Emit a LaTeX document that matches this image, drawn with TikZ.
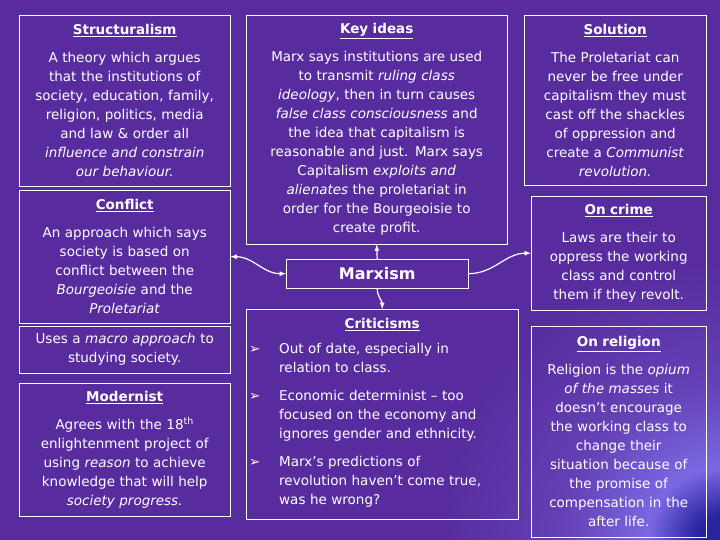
\documentclass[tikz,border=0pt]{standalone}
\usepackage{fontspec}
\setmainfont{DejaVu Sans}
\usepackage{tikz}
\usetikzlibrary{arrows}
\definecolor{bgPurple}{HTML}{582C9E}
\definecolor{glowViolet}{HTML}{7A68E2}
\definecolor{cornerBlue}{HTML}{28249E}
\pgfdeclareradialshading{cornerGlow}{\pgfpoint{0bp}{0bp}}{color(0bp)=(cornerBlue); color(2bp)=(cornerBlue); color(6bp)=(glowViolet); color(13bp)=(bgPurple!65!glowViolet); color(23bp)=(bgPurple); color(50bp)=(bgPurple)}
\newcommand{\boxTitle}[1]{\underline{\textbf{#1}}\\[9pt]}

\begin{document}
\begin{tikzpicture} [
    x=1pt, y=-1pt,
    infoBox/.style={draw=white, thin, text=white, align=center, anchor=north west, inner sep=3pt, font=\fontsize{13.5}{19}\selectfont},
    arrow/.style={line width=1.2pt, -latex, color=white}
]
    \useasboundingbox (0,0) rectangle (720,540);
    % background with the glow in the lower right corner
    \fill[bgPurple] (0,0) rectangle (720,540);
    \shade[shading=cornerGlow] (720,540) circle [radius=300pt];

    % left column
    \node[infoBox, minimum width=211pt, minimum height=171pt, text width=205pt] (structuralism) at (19,15) {\boxTitle{Structuralism}
        A theory which argues\\ that the institutions of\\ society, education, family,\\ religion, politics, media\\ and law \& order all\\ \textit{influence and constrain}\\ \textit{our behaviour.}};
    \node[infoBox, minimum width=211pt, minimum height=133pt, text width=205pt] (conflict) at (19,190) {\boxTitle{Conflict}
        An approach which says\\ society is based on\\ conflict between the\\ \textit{Bourgeoisie} and the\\ \textit{Proletariat}};
    \node[infoBox, minimum width=211pt, minimum height=47pt, text width=205pt] (macro) at (19,326) {Uses a \textit{macro approach} to\\ studying society.};
    \node[infoBox, minimum width=211pt, minimum height=133pt, text width=205pt] (modernist) at (19,383) {\boxTitle{Modernist}
        Agrees with the 18\textsuperscript{th}\\ enlightenment project of\\ using \textit{reason} to achieve\\ knowledge that will help\\ \textit{society progress.}};

    % middle column
    \node[infoBox, minimum width=261pt, minimum height=229pt, text width=255pt] (keyideas) at (246,15) {\boxTitle{Key ideas}
        Marx says institutions are used\\ to transmit \textit{ruling class}\\ \textit{ideology}, then in turn causes\\ \textit{false class consciousness} and\\ the idea that capitalism is\\ reasonable and just. Marx says\\ Capitalism \textit{exploits and}\\ \textit{alienates} the proletariat in\\ order for the Bourgeoisie to\\ create profit.};
    \node[infoBox, minimum width=182pt, minimum height=29pt, text width=176pt, font=\fontsize{16}{19}\selectfont\bfseries] (marxism) at (286,259) {Marxism};
    \node[infoBox, minimum width=272pt, minimum height=210pt, text width=266pt] (criticisms) at (246,309) {\boxTitle{Criticisms}
        \begin{tabular}{@{}p{18pt}p{236pt}@{}}
        ➢ & Out of date, especially in\\
          & relation to class.\\[9pt]
        ➢ & Economic determinist -- too\\
          & focused on the economy and\\
          & ignores gender and ethnicity.\\[9pt]
        ➢ & Marx's predictions of\\
          & revolution haven't come true,\\
          & was he wrong?
        \end{tabular}};

    % right column
    \node[infoBox, minimum width=182pt, minimum height=170pt, text width=176pt] (solution) at (524,15) {\boxTitle{Solution}
        The Proletariat can\\ never be free under\\ capitalism they must\\ cast off the shackles\\ of oppression and\\ create a \textit{Communist}\\ \textit{revolution.}};
    \node[infoBox, minimum width=175pt, minimum height=114pt, text width=169pt] (oncrime) at (531,196) {\boxTitle{On crime}
        Laws are their to\\ oppress the working\\ class and control\\ them if they revolt.};
    \node[infoBox, minimum width=175pt, minimum height=211pt, text width=169pt] (onreligion) at (531,326) {\boxTitle{On religion}
        Religion is the \textit{opium}\\ \textit{of the masses} it\\ doesn't encourage\\ the working class to\\ change their\\ situation because of\\ the promise of\\ compensation in the\\ after life.};

    \draw [arrow, latex-latex] (conflict.east) to[out=0, in=180] (marxism.west);
    \draw [arrow] (marxism.north) -- (keyideas.south);
    \draw [arrow] (marxism.south) to[out=-90, in=90] (criticisms.north);
    \draw [arrow] (marxism.east) to[out=0, in=180] (oncrime.west);
\end{tikzpicture}
\end{document}
